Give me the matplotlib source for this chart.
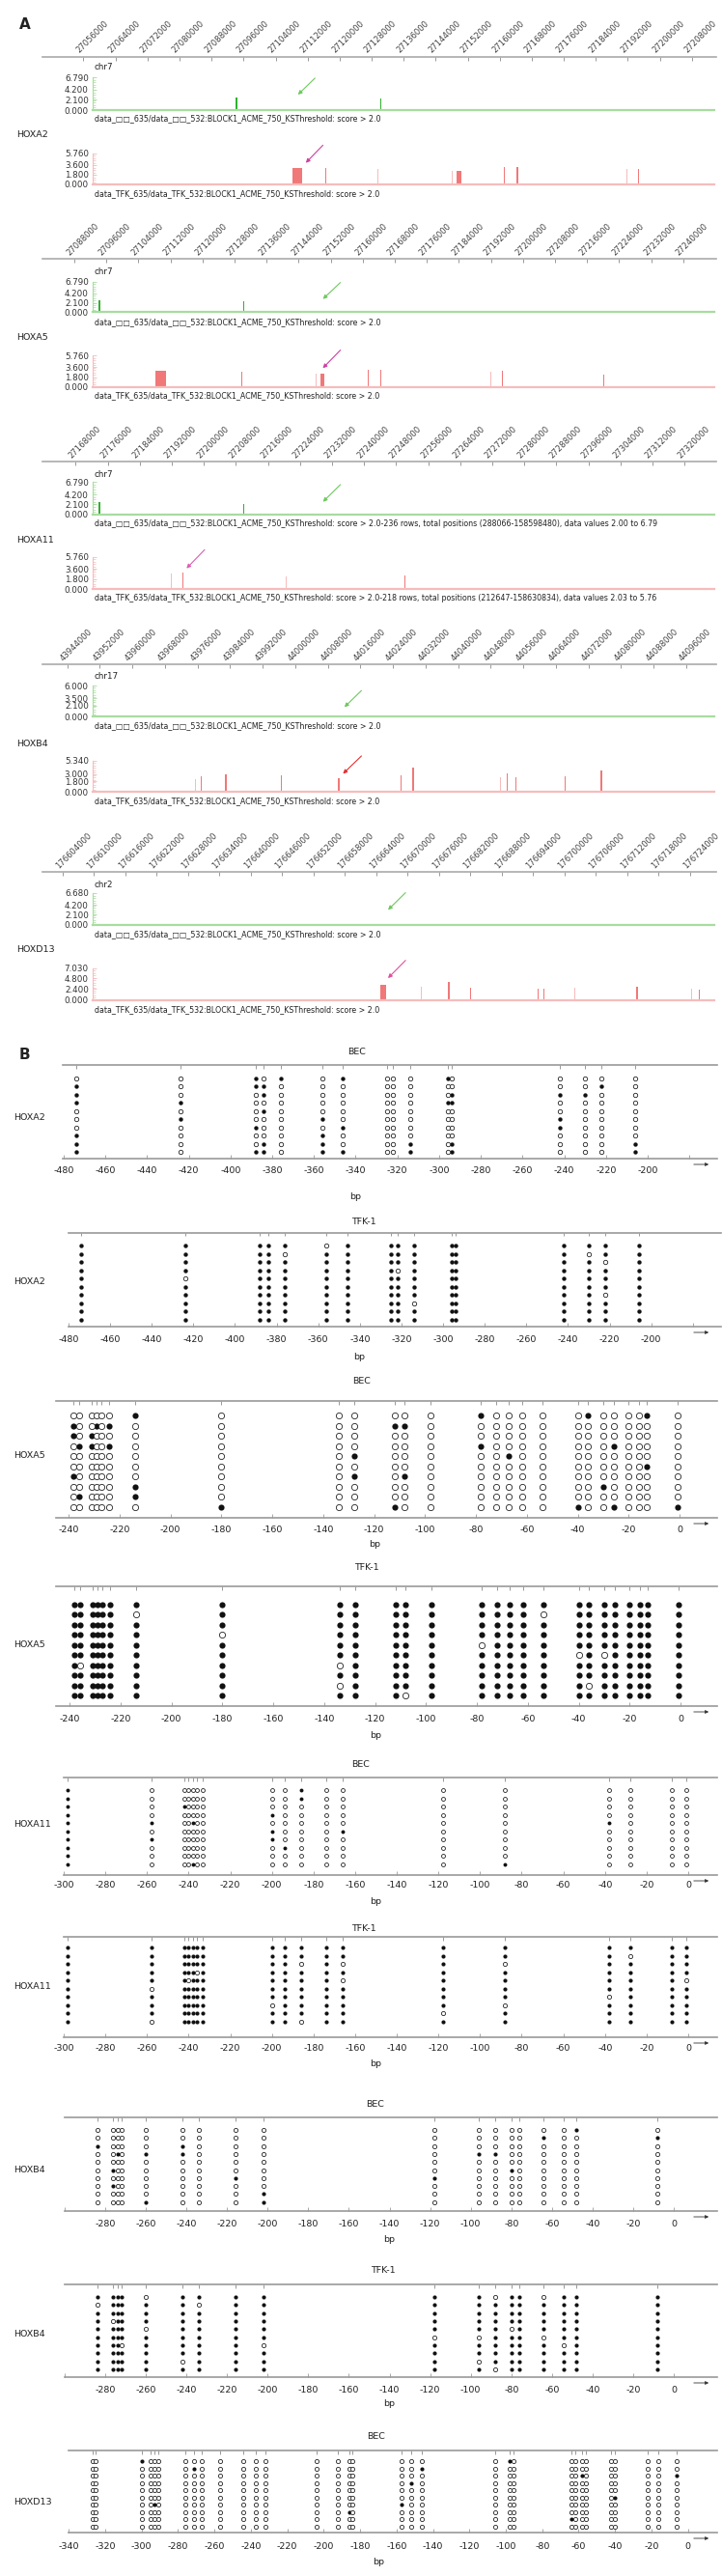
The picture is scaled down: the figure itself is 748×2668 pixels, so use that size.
import matplotlib.pyplot as plt
from matplotlib.ticker import MultipleLocator
from matplotlib.transforms import ScaledTranslation

plt.rcParams['font.family'] = ['DejaVu Sans']

W, H = 748, 2668

# ---------------- panel A : genome browser tracks ----------------
a_genes = ['HOXA2', 'HOXA5', 'HOXA11', 'HOXB4', 'HOXD13']
a_chroms = ['chr7', 'chr7', 'chr7', 'chr17', 'chr2']
a_tick_start = [27056000, 27088000, 27168000, 43944000, 176604000]
a_tick_step = [8000, 8000, 8000, 8000, 6000]
a_tick_count = [20, 20, 20, 20, 21]

a_green_yticks = [[0, 2.1, 4.2, 6.79], [0, 2.1, 4.2, 6.79], [0, 2.1, 4.2, 6.79],
                  [0, 2.1, 3.5, 6.0], [0, 2.1, 4.2, 6.68]]
a_red_yticks = [[0, 1.8, 3.6, 5.76], [0, 1.8, 3.6, 5.76], [0, 1.8, 3.6, 5.76],
                [0, 1.8, 3.0, 5.34], [0, 2.4, 4.8, 7.03]]

# BEC (green) peaks
green_start = [[27094020, 27130080], [27094130, 27130140], [27173780, 27209790], [], []]
green_end = [[27094500, 27130320], [27094610, 27130380], [27174260, 27210030], [], []]
green_score = [[2.66, 2.33], [2.57, 2.36], [2.58, 2.24], [], []]

# TFK-1 (red) peaks, dark=1 / pale=0
red_start = [
    [27108170, 27116520, 27129500, 27148050, 27149330, 27161040, 27164220, 27191650, 27194660],
    [27108260, 27116820, 27129680, 27148200, 27149480, 27161170, 27164350, 27191850, 27194740, 27220090],
    [27191850, 27194740, 27220440, 27250080],
    [43975450, 43976810, 43982740, 43996530, 44010430, 44025930, 44028660, 44050200, 44051910,
     44054080, 44066160, 44074810],
    [176664800, 176672520, 176677660, 176681840, 176694890, 176696040, 176701810, 176713720,
     176724180, 176725690],
]
red_end = [
    [27110610, 27116760, 27129740, 27148290, 27150490, 27161280, 27164580, 27191890, 27194900],
    [27110810, 27117060, 27129920, 27148440, 27150520, 27161410, 27164710, 27192090, 27194980, 27220330],
    [27192090, 27194980, 27220680, 27250320],
    [43975690, 43977050, 43983220, 43996770, 44010910, 44026170, 44029140, 44050440, 44052150,
     44054320, 44066400, 44075290],
    [176665860, 176672700, 176678030, 176682020, 176695070, 176696220, 176701990, 176714090,
     176724360, 176725870],
]
red_score = [
    [3.03, 2.97, 2.85, 2.55, 2.55, 3.27, 3.27, 2.90, 2.90],
    [2.91, 2.91, 2.73, 2.49, 2.49, 3.20, 3.20, 2.79, 2.91, 2.20],
    [2.76, 2.88, 2.25, 2.42],
    [2.20, 2.59, 3.03, 2.86, 2.31, 2.75, 4.18, 2.48, 3.19, 2.48, 2.64, 3.58],
    [3.34, 2.98, 3.90, 2.63, 2.41, 2.49, 2.77, 2.84, 2.49, 2.27],
]
red_dark = [
    [1, 1, 0, 0, 1, 1, 1, 0, 1],
    [1, 0, 1, 0, 1, 1, 1, 0, 1, 1],
    [0, 1, 0, 1],
    [0, 1, 1, 1, 1, 1, 1, 0, 1, 1, 1, 1],
    [1, 0, 1, 1, 1, 1, 0, 1, 0, 1],
]

# arrows (tail x, tail y, head x, head y)
green_arrow = [(27114319, 6.99, 27109101, 2.8), (27154918, 7.0, 27149592, 2.5),
               (27234570, 6.65, 27229244, 2.24), (44016706, 5.38, 44011578, 1.48),
               (176669947, 7.16, 176665864, 2.73)]
red_arrow = [(27116290, 7.6, 27111072, 3.62), (27154918, 7.13, 27149592, 3.09),
             (27200648, 7.37, 27195207, 3.34), (44016706, 6.44, 44011236, 2.75),
             (176669947, 9.16, 176665864, 4.4)]
red_arrow_col = ['#d040a0', '#d040a0', '#d860b0', '#e03030', '#e050a0']

cap_green = "data_\u25a1\u25a1_635/data_\u25a1\u25a1_532:BLOCK1_ACME_750_KSThreshold: score > 2.0"
cap_red = "data_TFK_635/data_TFK_532:BLOCK1_ACME_750_KSThreshold: score > 2.0"
cap_green_long = cap_green + "-236 rows, total positions (288066-158598480), data values 2.00 to 6.79"
cap_red_long = cap_red + "-218 rows, total positions (212647-158630834), data values 2.03 to 5.76"

# ---------------- panel B : bisulfite sequencing ----------------
hoxa2_cpg = [-474, -424, -388, -384, -376, -356, -346, -325, -322, -314, -296, -294, -242, -230, -222, -206]
hoxa2_bec_filled = [[3, 5, 7, 11], [1, 3, 4, 15], [1, 4, 12, 13, 14], [1, 2, 11, 12], [4],
                    [2, 6, 13], [3, 7, 13], [1, 6], [1, 4, 6, 10, 12, 16], [1, 3, 4, 6, 7, 10, 12, 16]]
hoxa2_tfk_open = [[6], [5, 14], [15], [9], [2], [], [15], [10], [], []]

hoxa5_cpg = [-238, -236, -231, -229, -227, -224, -214, -180, -134, -128, -112, -108, -98,
             -78, -72, -67, -62, -54, -40, -36, -30, -26, -20, -16, -13, -1]
hoxa5_bec_filled = [[7, 14, 20, 25], [1, 4, 6, 11, 12], [1, 3], [2, 3, 6, 14, 22], [10, 16],
                    [25], [1, 10, 12], [7, 21], [2, 7], [8, 11, 19, 22, 26]]
hoxa5_tfk_open = [[], [7, 18], [], [8], [14], [19, 21], [2, 9], [], [9, 20], [12]]

hoxa11_cpg = [-298, -258, -242, -240, -238, -236, -233, -200, -194, -186, -174, -166,
              -118, -88, -38, -28, -8, -1]
hoxa11_bec_filled = [[1, 10], [1, 10], [1, 3], [1, 8], [1, 2, 5, 15], [1, 8, 12], [1, 2, 8],
                     [1, 9], [1], [1, 5, 14]]
hoxa11_tfk_open = [[], [16], [10, 12, 14], [6], [4, 12, 18], [2], [15], [8, 14], [13], [2, 10]]

hoxb4_cpg = [-284, -276, -274, -272, -260, -242, -234, -216, -202, -118, -96, -88, -80, -76,
             -64, -54, -48, -8]
hoxb4_bec_filled = [[17], [15, 18], [1, 6], [3, 5, 6, 11, 12], [], [2, 13], [8, 10], [2], [9], [5, 9]]
hoxb4_tfk_open = [[5, 12, 15], [1, 7], [], [2], [5, 13], [10, 11, 15], [4, 9, 16], [], [6, 11], [12]]

hoxd13_cpg = [-327, -325, -300, -295, -293, -291, -276, -271, -267, -257, -244, -237, -232,
              -204, -192, -186, -184, -157, -152, -146, -106, -98, -96, -64, -62, -58, -56,
              -42, -40, -22, -16, -6]
hoxd13_bec_filled = [[3, 22], [8, 20], [26, 32], [19], [], [29], [5, 18], [16], [24], []]

b_panels = [
    ('HOXA2', 'BEC', hoxa2_cpg, hoxa2_bec_filled, True),
    ('HOXA2', 'TFK-1', hoxa2_cpg, hoxa2_tfk_open, False),
    ('HOXA5', 'BEC', hoxa5_cpg, hoxa5_bec_filled, True),
    ('HOXA5', 'TFK-1', hoxa5_cpg, hoxa5_tfk_open, False),
    ('HOXA11', 'BEC', hoxa11_cpg, hoxa11_bec_filled, True),
    ('HOXA11', 'TFK-1', hoxa11_cpg, hoxa11_tfk_open, False),
    ('HOXB4', 'BEC', hoxb4_cpg, hoxb4_bec_filled, True),
    ('HOXB4', 'TFK-1', hoxb4_cpg, hoxb4_tfk_open, False),
    ('HOXD13', 'BEC', hoxd13_cpg, hoxd13_bec_filled, True),
]
# tick range (lo, hi) and last labelled tick; first labelled tick
b_tick_range = [(-480, -180, -200), (-480, -180, -200), (-240, 0, 0), (-240, 0, 0), (-300, 0, 0),
                (-300, 0, 0), (-300, 0, 0), (-300, 0, 0), (-340, 0, 0)]
b_label_lo = [-480, -480, -240, -240, -300, -300, -280, -280, -340]

# ---------------- layout (pixels) ----------------
scale_y = [59, 268.3, 478.3, 688.3, 903.3]
tick0_px = [86.5, 76.9, 78.4, 69.7, 64.9]
tick_px = [33.17, 33.2, 33.2, 33.75, 32.5]
chr_y = [70, 281.7, 491, 700.7, 916.7]
green_box = [(80, 114), (291.7, 323.3), (499.3, 532.7), (710, 742.3), (925, 957.7)]
green_cap_y = [123, 333.3, 542.7, 751.7, 967.7]
gene_y = [140, 349.3, 559.3, 770, 984]
red_box = [(158.7, 191), (368.3, 400.7), (576.7, 610), (787.7, 820), (1002.7, 1035.7)]
red_cap_y = [201, 410, 620, 829.3, 1045.7]

# L, R, px of first label, px per bp, top line, first row, row step, bottom line,
# title y, title x, gene label y, tick label y, bp label y, dot size
b_layout = [
    (65, 743, 65.9, 2.161, 1103, 1116.5, 8.5, 1200, 1090, 370, 1157, 1213, 1239, 10),
    (71, 747, 69.7, 2.160, 1277, 1290, 8.55, 1374, 1265, 377, 1328, 1388, 1405, 10),
    (58, 743, 71.1, 2.638, 1451, 1466, 10.55, 1572, 1430, 375, 1508, 1585, 1600, 20),
    (58, 743, 72.1, 2.638, 1643, 1662, 10.45, 1767, 1623, 380, 1703, 1781, 1798, 20),
    (66, 743, 65.9, 2.157, 1841, 1854, 8.55, 1942, 1828, 374, 1890, 1953, 1970, 8),
    (66, 743, 65.9, 2.157, 2006, 2017, 8.55, 2110, 1998, 377, 2057, 2122, 2137, 9),
    (67, 743, 108.6, 2.105, 2193, 2206, 8.3, 2290, 2180, 389, 2248, 2304, 2320, 9),
    (67, 743, 108.6, 2.105, 2366, 2379, 8.33, 2462, 2352, 397, 2417, 2476, 2489, 9),
    (71, 743, 71.1, 1.887, 2538, 2549, 7.55, 2623, 2524, 390, 2592, 2638, 2653, 9),
]

fig = plt.figure(figsize=(W / 100, H / 100), dpi=100)


def add_ax(x0, y0, x1, y1):
    ax = fig.add_axes([x0 / W, 1 - y1 / H, (x1 - x0) / W, (y1 - y0) / H])
    ax.patch.set_alpha(0)
    return ax


def ftext(x, y, s, **kw):
    kw.setdefault('va', 'center')
    kw.setdefault('color', '#222')
    fig.text(x / W, 1 - y / H, s, **kw)


ftext(20, 25, 'A', fontsize=11, fontweight='bold')
ftext(20, 1093, 'B', fontsize=11, fontweight='bold')


def style_track(ax, ymax, yticks, col):
    ax.set_ylim(0, ymax)
    for s in ('top', 'right'):
        ax.spines[s].set_visible(False)
    ax.spines['left'].set_color(col)
    ax.spines['left'].set_linewidth(0.8)
    ax.spines['bottom'].set_color(col)
    ax.spines['bottom'].set_linewidth(1.6)
    ax.set_xticks([])
    ax.set_yticks(yticks)
    ax.set_yticklabels(['%.3f' % v for v in yticks])
    ax.yaxis.set_minor_locator(MultipleLocator(ymax / 13))
    ax.tick_params(axis='y', which='major', direction='in', length=3, width=0.6, color=col,
                   labelsize=6.3, labelcolor='#333', pad=3)
    ax.tick_params(axis='y', which='minor', direction='in', length=2, width=0.5, color=col)


shift_left = ScaledTranslation(-6 / 100, 0, fig.dpi_scale_trans)

for g in range(5):
    def x2g(px, g=g):
        return a_tick_start[g] + (px - tick0_px[g]) / tick_px[g] * a_tick_step[g]

    ticks = [a_tick_start[g] + k * a_tick_step[g] for k in range(a_tick_count[g])]
    ay = scale_y[g]
    sa = add_ax(44, ay, 742, ay + 4)
    sa.set_xlim(x2g(44), x2g(742))
    sa.set_ylim(0, 1)
    sa.xaxis.tick_top()
    sa.set_xticks(ticks)
    sa.set_xticklabels([str(t) for t in ticks], rotation=45, ha='left', va='center',
                       rotation_mode='anchor', fontsize=6.1, color='#444')
    sa.tick_params(axis='x', direction='in', length=3, width=0.7, color='#999', pad=4)
    for lab in sa.xaxis.get_ticklabels(which='major'):
        pass
    for tk in sa.xaxis.get_major_ticks():
        tk.label2.set_transform(tk.label2.get_transform() + shift_left)
    sa.set_yticks([])
    for s in ('left', 'right', 'bottom'):
        sa.spines[s].set_visible(False)
    sa.spines['top'].set_color('#aaa')
    sa.spines['top'].set_linewidth(1.2)

    # green (BEC) track
    ga = add_ax(96, green_box[g][0], 740, green_box[g][1])
    ga.set_xlim(x2g(96), x2g(740))
    style_track(ga, a_green_yticks[g][-1], a_green_yticks[g], '#a8dca0')
    for s0, e0, v in zip(green_start[g], green_end[g], green_score[g]):
        ga.bar((s0 + e0) / 2, v, width=e0 - s0, color='#30b030', linewidth=0)
    tx, ty, hx, hy = green_arrow[g]
    ga.annotate('', xy=(hx, hy), xytext=(tx, ty), annotation_clip=False,
                arrowprops=dict(arrowstyle='-|>', color='#70c860', lw=0.8, mutation_scale=6))
    ftext(98, chr_y[g], a_chroms[g], fontsize=6.3)
    ftext(98, green_cap_y[g], cap_green_long if g == 2 else cap_green, fontsize=5.7)
    ftext(17, gene_y[g], a_genes[g], fontsize=6.8)

    # red (TFK-1) track
    ra = add_ax(96, red_box[g][0], 740, red_box[g][1])
    ra.set_xlim(x2g(96), x2g(740))
    style_track(ra, a_red_yticks[g][-1], a_red_yticks[g], '#f6bcbc')
    for s0, e0, v, d in zip(red_start[g], red_end[g], red_score[g], red_dark[g]):
        ra.bar((s0 + e0) / 2, v, width=e0 - s0, color='#f07878' if d else '#f6bcbc', linewidth=0)
    tx, ty, hx, hy = red_arrow[g]
    ra.annotate('', xy=(hx, hy), xytext=(tx, ty), annotation_clip=False,
                arrowprops=dict(arrowstyle='-|>', color=red_arrow_col[g], lw=0.8, mutation_scale=6))
    ftext(98, red_cap_y[g], cap_red_long if g == 2 else cap_red, fontsize=5.7)

# panel B
for (gene, cell, cpg, rows, rows_filled), (lo, hi, lab_hi), lab_lo, lay in zip(
        b_panels, b_tick_range, b_label_lo, b_layout):
    L, R, px0, ppb, yt, r1, sp, yb, ty, tx, ly, tly, bpy, dsize = lay

    def px2bp(px, lab_lo=lab_lo, px0=px0, ppb=ppb):
        return lab_lo + (px - px0) / ppb

    ax = add_ax(L, yt, R, yb)
    ax.set_xlim(px2bp(L), px2bp(R))
    ax.set_ylim((yb - r1) / sp, (yt - r1) / sp)
    for ri, idx in enumerate(rows):
        fx, ox = [], []
        for j, pos in enumerate(cpg):
            is_filled = ((j + 1) in idx) == rows_filled
            (fx if is_filled else ox).append(pos)
        ax.scatter(fx, [ri] * len(fx), s=dsize, c='#111', linewidths=0, zorder=3)
        ax.scatter(ox, [ri] * len(ox), s=dsize, facecolors='white', edgecolors='#222',
                   linewidths=0.6, zorder=3)
    ax.vlines(cpg, 1 - 3.5 / (yb - yt), 1, transform=ax.get_xaxis_transform(),
              color='#888', lw=0.6)
    for s in ('left', 'right'):
        ax.spines[s].set_visible(False)
    for s in ('top', 'bottom'):
        ax.spines[s].set_color('#999')
        ax.spines[s].set_linewidth(1.2)
    tv = list(range(lo, hi + 1, 20))
    ax.set_xticks(tv)
    ax.set_xticklabels([str(v) if lab_lo <= v <= lab_hi else '' for v in tv])
    ax.tick_params(axis='x', direction='in', length=3, width=0.6, color='#999',
                   labelsize=6.8, labelcolor='#222', pad=(tly - yb - 4.8) * 0.72)
    ax.set_yticks([])
    mid = (lab_lo + lab_hi) / 2
    ftext(L + (mid - px2bp(L)) * ppb, bpy, 'bp', fontsize=6.8, ha='center')
    ftext(tx, ty, cell, fontsize=6.8, ha='center')
    ftext(14, ly, gene, fontsize=6.8)
    ax.annotate('', xy=(737, H - (yb + 6)), xytext=(716, H - (yb + 6)),
                xycoords='figure pixels', textcoords='figure pixels',
                arrowprops=dict(arrowstyle='-|>', color='#333', lw=0.6, mutation_scale=5))

fig.savefig('out.png', dpi=100)
